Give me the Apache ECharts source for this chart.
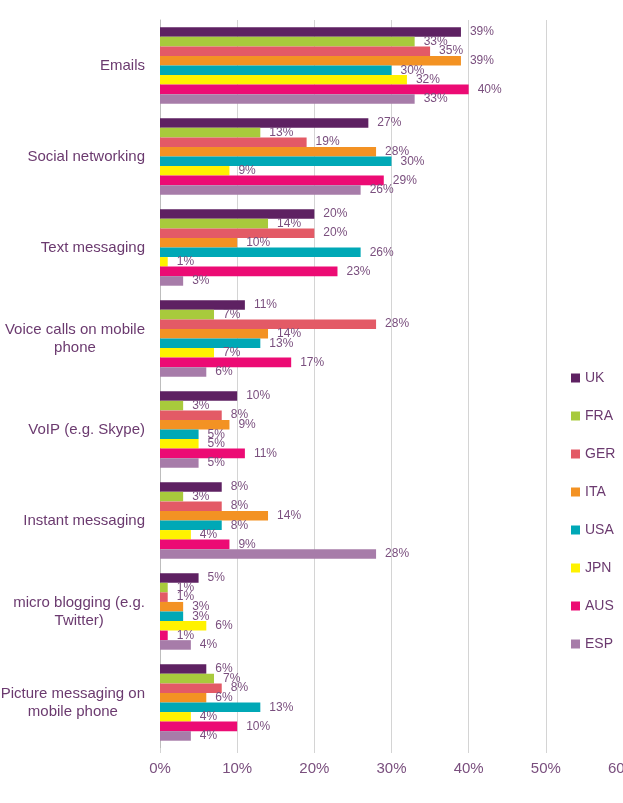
<!DOCTYPE html>
<html>
<head>
<meta charset="utf-8">
<script src="https://cdn.jsdelivr.net/npm/echarts@6/dist/echarts.min.js"></script>
<style>
  html, body { margin: 0; padding: 0; background: #fff; }
  #main { width: 623px; height: 803px; }
</style>
</head>
<body>
<div id="main"></div>
<script>
// activities (top to bottom)
var categories = ['Emails', 'Social networking', 'Text messaging', 'Voice calls on mobile\nphone',
                  'VoIP (e.g. Skype)', 'Instant messaging', 'micro blogging (e.g.\nTwitter)',
                  'Picture messaging on\nmobile phone'];
var countries = ['UK', 'FRA', 'GER', 'ITA', 'USA', 'JPN', 'AUS', 'ESP'];
var colors = ['#5e2162', '#a8ca3c', '#e35a66', '#f39223', '#00a8b6', '#fff200', '#ec0b74', '#a77ca9'];

// % per country, in category order
var uk  = [39, 27, 20, 11, 10, 8, 5, 6];
var fra = [33, 13, 14, 7, 3, 3, 1, 7];
var ger = [35, 19, 20, 28, 8, 8, 1, 8];
var ita = [39, 28, 10, 14, 9, 14, 3, 6];
var usa = [30, 30, 26, 13, 5, 8, 3, 13];
var jpn = [32, 9, 1, 7, 5, 4, 6, 4];
var aus = [40, 29, 23, 17, 11, 9, 1, 10];
var esp = [33, 26, 3, 6, 5, 28, 4, 4];
var values = [uk, fra, ger, ita, usa, jpn, aus, esp];

var xTicks = { min: 0, max: 60, step: 10 };

var chart = echarts.init(document.getElementById('main'));

var series = [];
for (var i = 0; i < countries.length; i++) {
    series.push({
        name: countries[i],
        type: 'bar',
        barGap: '0%',
        barCategoryGap: '16%',
        itemStyle: { color: colors[i] },
        label: {
            show: true,
            position: 'right',
            distance: 9,
            formatter: '{c}%',
            color: '#7a4f7e',
            fontSize: 12,
            fontFamily: 'Liberation Sans'
        },
        data: values[i]
    });
}

var option = {
    animation: false,
    backgroundColor: '#fff',
    textStyle: { fontFamily: 'Liberation Sans' },
    legend: {
        orient: 'vertical',
        left: 566,
        top: 366,
        itemWidth: 9,
        itemHeight: 9,
        itemGap: 24,
        icon: 'rect',
        textStyle: { color: '#6b3a6f', fontSize: 14, fontFamily: 'Liberation Sans' },
        data: countries
    },
    grid: {
        left: 160,
        right: 0,
        top: 20,
        bottom: 55,
        outerBoundsMode: 'none'
    },
    xAxis: {
        type: 'value',
        min: xTicks.min,
        max: xTicks.max,
        interval: xTicks.step,
        axisLine: { show: false },
        axisTick: { show: true, length: 5, lineStyle: { color: '#d4d4d4' } },
        splitLine: { lineStyle: { color: '#d4d4d4', width: 1 } },
        axisLabel: {
            formatter: '{value}%',
            color: '#7a4f7e',
            fontSize: 15,
            margin: 13
        }
    },
    yAxis: {
        type: 'category',
        inverse: true,
        data: categories,
        axisLine: { lineStyle: { color: '#bdbdbd' } },
        axisTick: { show: false },
        axisLabel: {
            color: '#6b3a6f',
            fontSize: 15,
            margin: 15,
            lineHeight: 18,
            formatter: function (v) {
                return v.split('\n').map(function (s) { return '{c|' + s + '}'; }).join('\n');
            },
            rich: {
                c: { align: 'center', color: '#6b3a6f', fontSize: 15, lineHeight: 18 }
            }
        }
    },
    series: series
};

chart.setOption(option);
</script>
</body>
</html>
